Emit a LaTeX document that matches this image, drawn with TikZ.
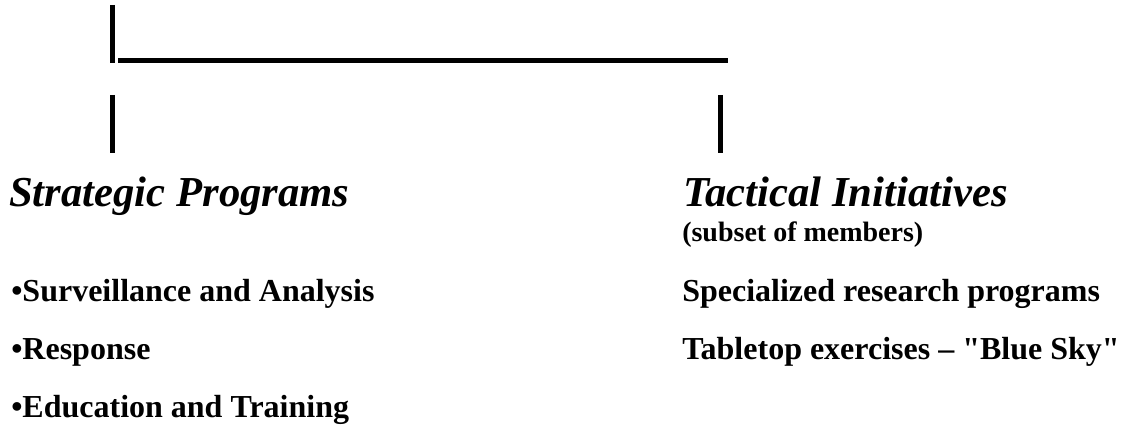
\documentclass[tikz,border=0pt]{standalone}
\usepackage{fontspec}
\setmainfont{Liberation Serif}
\usetikzlibrary{positioning}
\tikzset{
  bar/.style={line width=3.75pt,line cap=butt},
  head/.style={inner sep=0pt,anchor=base west,font=\bfseries\itshape\fontsize{32}{36}\selectfont},
  item/.style={inner sep=0pt,anchor=base west,font=\bfseries\fontsize{24}{28}\selectfont},
  note/.style={inner sep=0pt,anchor=base west,font=\bfseries\fontsize{21}{24}\selectfont}
}
\begin{document}
\begin{tikzpicture}[x=0.75pt,y=-0.75pt]
\useasboundingbox (0,0) rectangle (1122,427);
\coordinate (T1) at (112.5,5);
\coordinate (T2) at (112.5,63);
\coordinate (H1) at (118,60.5);
\coordinate (H2) at (728,60.5);
\coordinate (L1) at (112.5,95);
\coordinate (L2) at (112.5,153);
\coordinate (R1) at (720.5,95);
\coordinate (R2) at (720.5,153);
\draw[bar] (T1) -- (T2);
\draw[bar] (H1) -- (H2);
\draw[bar] (L1) -- (L2);
\draw[bar] (R1) -- (R2);
% left column
\node[head] (strat) at (9,207) {Strategic Programs};
\node[item] (surv) at (11,302) {•Surveillance and Analysis};
\node[item] (resp) at (11,360) {•Response};
\node[item] (edu) at (11,418) {•Education and Training};
% right column
\node[head] (tact) at (683,207) {Tactical Initiatives};
\node[note] (subset) at (682,242) {(subset of members)};
\node[item] (spec) at (682,302) {Specialized research programs};
\node[item] (table) at (682,360) {Tabletop exercises – \textquotedbl Blue Sky\textquotedbl};
\end{tikzpicture}
\end{document}
